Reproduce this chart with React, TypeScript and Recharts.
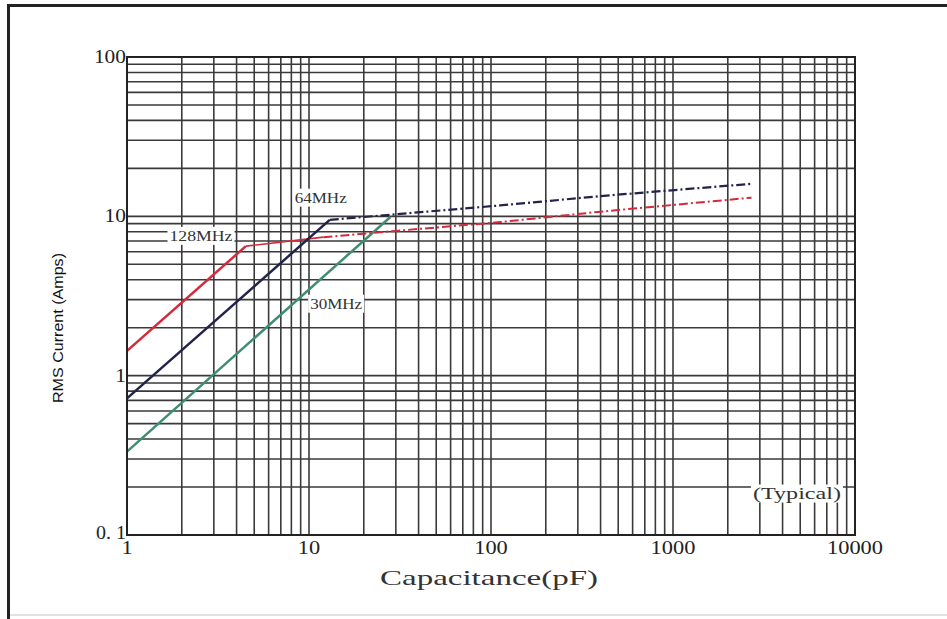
import React from 'react';
import {
  LineChart,
  Line,
  XAxis,
  YAxis,
  CartesianGrid,
  ReferenceArea,
  ReferenceDot
} from 'recharts';

// grid ticks (log decades x mantissas)
const MANTISSAS = [1, 2, 3, 4, 5, 6, 7, 8, 9];
const CAP_DECADES = [1, 10, 100, 1000];
const AMP_DECADES = [0.1, 1, 10];
const CAP_LABELS = [1, 10, 100, 1000, 10000];
const AMP_LABELS: Record<string, string> = { '0.1': '0. 1', '1': '1', '10': '10', '100': '100' };

const capTicks = [...CAP_DECADES.flatMap(d => MANTISSAS.map(m => +(m * d).toPrecision(3))), 10000];
const ampTicks = [...AMP_DECADES.flatMap(d => MANTISSAS.map(m => +(m * d).toPrecision(3))), 100];

// 128MHz (red)
const cap128Steep = [1, 4.5];
const amp128Steep = [1.43, 6.5];
const cap128Knee = [4.5, 12];
const amp128Knee = [6.5, 7.4];
const cap128Flat = [12, 30, 112, 400, 2700];
const amp128Flat = [7.4, 8.1, 9.2, 10.7, 13.1];

// 64MHz (navy)
const cap64Steep = [1, 13];
const amp64Steep = [0.72, 9.5];
const cap64Flat = [13, 112, 400, 2700];
const amp64Flat = [9.5, 11.7, 13.4, 16];

// 30MHz (green)
const cap30Steep = [1, 28];
const amp30Steep = [0.334, 9.9];

const toRows = (caps: number[], amps: number[]) => caps.map((cap, i) => ({ cap, amp: amps[i] }));

const RED = '#d42a3c';
const NAVY = '#22224a';
const GREEN = '#3f8e72';
const GRID = '#3a3a3a';
const DASH_DOT = '9 3 2 3';

const XTick = (props: any) => {
  const { x, y, payload } = props;
  if (!CAP_LABELS.includes(payload.value)) return null;
  const s = String(payload.value);
  const w = s.length * 11.2;
  return (
    <text x={x - w / 2} y={y + 19} textLength={w} lengthAdjust="spacingAndGlyphs" fontFamily="Liberation Serif" fontSize={18} fill="#222">
      {s}
    </text>
  );
};

const YTick = (props: any) => {
  const { x, y, payload } = props;
  const label = AMP_LABELS[String(payload.value)];
  if (!label) return null;
  const w = label === '0. 1' ? 30 : label.length * 10.7;
  const dy = label === '0. 1' ? 4 : 6;
  return (
    <text x={x - 1 - w} y={y + dy} textLength={w} lengthAdjust="spacingAndGlyphs" fontFamily="Liberation Serif" fontSize={18} fill="#222">
      {label}
    </text>
  );
};

const boxLabel = (text: string, w: number, size = 15) => (props: any) => {
  const { cx, cy } = props;
  return (
    <g>
      <rect x={cx - w / 2 - 2} y={cy - 9} width={w + 4} height={18} fill="#fff" />
      <text
        x={cx - w / 2}
        y={cy + 5}
        textLength={w}
        lengthAdjust="spacingAndGlyphs"
        fontFamily="Liberation Serif"
        fontSize={size}
        fill="#333"
      >
        {text}
      </text>
    </g>
  );
};

export default function App() {
  return (
    <div style={{ position: 'absolute', left: 0, top: 0, width: 947, height: 619, background: '#fff' }}>
      {/* outer frame */}
      <div style={{ position: 'absolute', left: 7, top: 4, width: 3, height: 615, background: '#222' }} />
      <div style={{ position: 'absolute', left: 7, top: 4, width: 940, height: 3, background: '#222' }} />
      <div style={{ position: 'absolute', left: 10, top: 614, width: 937, height: 2, background: '#e2e2e2' }} />

      <LineChart
        width={947}
        height={619}
        margin={{ top: 57, right: 92, left: 87, bottom: 54 }}
        style={{ position: 'absolute', left: 0, top: 0 }}
      >
        <CartesianGrid stroke={GRID} strokeWidth={1.6} />
        <XAxis
          dataKey="cap"
          type="number"
          scale="log"
          domain={[1, 10000]}
          ticks={capTicks}
          allowDataOverflow
          height={30}
          tickSize={0}
          tickMargin={0}
          tickLine={false}
          axisLine={{ stroke: '#222', strokeWidth: 2 }}
          tick={<XTick />}
          interval={0}
        />
        <YAxis
          dataKey="amp"
          type="number"
          scale="log"
          domain={[0.1, 100]}
          ticks={ampTicks}
          allowDataOverflow
          width={40}
          tickSize={0}
          tickMargin={0}
          tickLine={false}
          axisLine={{ stroke: '#222', strokeWidth: 2 }}
          tick={<YTick />}
          interval={0}
          label={{
            content: () => (
              <text
                transform="translate(63,328) rotate(-90)"
                x={-75}
                y={0}
                textLength={150}
                lengthAdjust="spacingAndGlyphs"
                fontFamily="Liberation Sans"
                fontSize={14}
                fill="#111"
              >
                RMS Current (Amps)
              </text>
            )
          }}
        />
        <ReferenceArea x1={1} x2={10000} y1={0.1} y2={100} fill="none" stroke="#222" strokeWidth={2} />

        <Line data={toRows(cap30Steep, amp30Steep)} dataKey="amp" type="linear" stroke={GREEN} strokeWidth={2.5} dot={false} isAnimationActive={false} />
        <Line data={toRows(cap128Steep, amp128Steep)} dataKey="amp" type="linear" stroke={RED} strokeWidth={2.5} dot={false} isAnimationActive={false} />
        <Line data={toRows(cap128Knee, amp128Knee)} dataKey="amp" type="linear" stroke={RED} strokeWidth={1.6} dot={false} isAnimationActive={false} />
        <Line data={toRows(cap128Flat, amp128Flat)} dataKey="amp" type="linear" stroke={RED} strokeWidth={2} strokeDasharray={DASH_DOT} dot={false} isAnimationActive={false} />
        <Line data={toRows(cap64Steep, amp64Steep)} dataKey="amp" type="linear" stroke={NAVY} strokeWidth={2.5} dot={false} isAnimationActive={false} />
        <Line data={toRows(cap64Flat, amp64Flat)} dataKey="amp" type="linear" stroke={NAVY} strokeWidth={2.2} strokeDasharray={DASH_DOT} dot={false} isAnimationActive={false} />

        <ReferenceDot x={11.6} y={13.1} r={0} shape={boxLabel('64MHz', 52)} />
        <ReferenceDot x={2.55} y={7.54} r={0} shape={boxLabel('128MHz', 63)} />
        <ReferenceDot x={14.1} y={2.83} r={0} shape={boxLabel('30MHz', 52)} />
        <ReferenceDot x={4800} y={0.182} r={0} shape={boxLabel('(Typical)', 88, 16)} />

        <text
          x={380}
          y={585}
          textLength={218}
          lengthAdjust="spacingAndGlyphs"
          fontFamily="Liberation Serif"
          fontSize={22}
          fill="#333"
        >
          Capacitance(pF)
        </text>
      </LineChart>
    </div>
  );
}
